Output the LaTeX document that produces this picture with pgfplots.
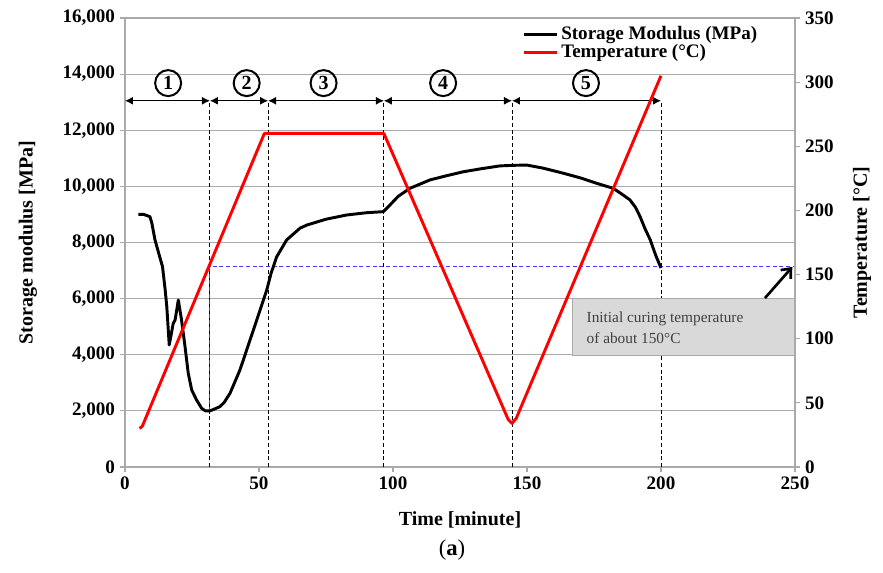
\documentclass[border=0pt]{standalone}
\usepackage{fontspec}
\setmainfont{Liberation Serif}
\usepackage{pgfplots}
\pgfplotsset{compat=1.18}
\usetikzlibrary{arrows.meta}
\definecolor{gridgray}{RGB}{170,170,170}
\definecolor{boxgray}{RGB}{217,217,217}
\definecolor{dashblue}{RGB}{60,60,255}
\begin{document}
\begin{tikzpicture}[x=1pt,y=1pt]
\path (0,0) rectangle (662.25,429);
\begin{axis}[
  at={(93.75pt,78.75pt)}, anchor=south west,
  scale only axis, width=502.5pt, height=336.75pt,
  xmin=0, xmax=250, ymin=0, ymax=16000,
  xtick={0,50,...,250}, ytick={0,2000,...,16000},
  xtick pos=bottom, ytick pos=left, tick align=outside,
  major tick length=4pt,
  axis line style={gridgray, line width=0.8pt},
  tick style={gridgray, line width=0.8pt},
  ymajorgrids, grid style={gridgray, line width=0.8pt},
  scaled y ticks=false,
  /pgf/number format/assume math mode=true,
  /pgf/number format/1000 sep={,},
  tick label style={font=\bfseries\fontsize{14.3}{16}\selectfont},
  label style={font=\bfseries\fontsize{15}{17}\selectfont},
  ylabel={Storage modulus [MPa]},
  xlabel={Time [minute]},
  ylabel style={at={(axis description cs:-0.145,0.5)}, anchor=center},
  xlabel style={at={(axis description cs:0.5,-0.118)}, anchor=center},
]
% phase markers
\foreach \xx in {31.7,53.4,96.6,144.4,200} {
  \edef\tmp{\noexpand\draw[black, line width=0.7pt, dash pattern=on 3pt off 2pt] (axis cs:\xx,0) -- (axis cs:\xx,13050);}
  \tmp
}
\draw[dashblue, line width=0.8pt, dash pattern=on 3pt off 2pt] (axis cs:31.7,2000) -- (axis cs:31.7,7130) -- (axis cs:250,7130);
\draw[black, line width=0.8pt, {Latex[length=6pt,width=6pt]}-{Latex[length=6pt,width=6pt]}] (axis cs:0,13050) -- (axis cs:31.7,13050);
\draw[black, line width=0.8pt, {Latex[length=6pt,width=6pt]}-{Latex[length=6pt,width=6pt]}] (axis cs:31.7,13050) -- (axis cs:53.4,13050);
\draw[black, line width=0.8pt, {Latex[length=6pt,width=6pt]}-{Latex[length=6pt,width=6pt]}] (axis cs:53.4,13050) -- (axis cs:96.6,13050);
\draw[black, line width=0.8pt, {Latex[length=6pt,width=6pt]}-{Latex[length=6pt,width=6pt]}] (axis cs:96.6,13050) -- (axis cs:144.4,13050);
\draw[black, line width=0.8pt, {Latex[length=6pt,width=6pt]}-{Latex[length=6pt,width=6pt]}] (axis cs:144.4,13050) -- (axis cs:200,13050);
\tikzset{circnum/.style={circle, draw=black, line width=1.5pt, minimum size=19.5pt, inner sep=0pt, font=\bfseries\fontsize{15}{16}\selectfont}}
\node[circnum] at (axis cs:16.1,13680) {1};
\node[circnum] at (axis cs:45.4,13680) {2};
\node[circnum] at (axis cs:74.1,13680) {3};
\node[circnum] at (axis cs:118.7,13680) {4};
\node[circnum] at (axis cs:172.0,13680) {5};
% annotation box
\filldraw[fill=boxgray, draw=gridgray, line width=0.6pt] (axis cs:166.8,3990) rectangle (axis cs:250,6020);
\node[anchor=west, align=left, text=black!75, font=\fontsize{11.5}{16}\selectfont] at (axis cs:170.5,4971) {Initial curing temperature\\of about 150°C};
\draw[black, line width=2pt, -{Straight Barb[length=6pt,width=10pt]}] (axis cs:238.8,6020) -- (axis cs:249,7130);
% storage modulus
\addplot[black, line width=2.2pt, line join=round] coordinates {
(5,9000) (7,9000) (9.3,8920) (10,8700) (11.2,8090) (13.1,7440) (14,7140) (15,6300)
(15.6,5710) (16.5,4350) (17.2,4700) (18,5120) (18.7,5240) (19.9,5950) (21.1,5240)
(22.4,4290) (23.6,3340) (24.9,2740) (26.7,2390) (28.6,2090) (30,2000) (31.7,2000)
(33,2050) (35.4,2150) (37,2300) (39.2,2630) (42.9,3460) (47.9,4880) (52.9,6310)
(54.5,6900) (56.6,7490) (60.3,8090) (65.3,8510) (67.8,8620) (75,8830) (82.7,8980)
(90,9060) (96.4,9100) (98.9,9340) (102,9650) (106.3,9930) (113.8,10230) (120,10380)
(126.2,10520) (133,10630) (139.9,10730) (145,10750) (149.9,10760) (156,10650)
(163.5,10470) (170,10300) (176,10110) (182.2,9930) (185,9750) (188.4,9520)
(190.5,9250) (192.2,8920) (194,8500) (196,8090) (198,7550) (200,7090)
};
\end{axis}
\begin{axis}[
  at={(93.75pt,78.75pt)}, anchor=south west,
  scale only axis, width=502.5pt, height=336.75pt,
  xmin=0, xmax=250, ymin=0, ymax=350,
  axis x line=none, axis y line*=right,
  ytick={0,50,...,350}, tick align=outside,
  major tick length=4pt,
  axis line style={gridgray, line width=0.8pt},
  tick style={gridgray, line width=0.8pt},
  /pgf/number format/assume math mode=true,
  tick label style={font=\bfseries\fontsize{14.3}{16}\selectfont},
  label style={font=\bfseries\fontsize{15}{17}\selectfont},
  ylabel={Temperature [°C]},
  ylabel style={at={(axis description cs:1.1,0.5)}, anchor=center, rotate=0},
  legend style={at={(0.95,0.99)}, anchor=north east, draw=none, fill=none,
    font=\bfseries\fontsize{14.3}{15}\selectfont, row sep=-2pt, inner sep=1pt},
  legend cell align=left,
  legend image code/.code={\draw[#1] (0pt,0pt) -- (25pt,0pt);},
]
\addlegendimage{black, line width=2.2pt}
\addlegendentry{Storage Modulus (MPa)}
\addplot[red, line width=2.2pt, line join=round] coordinates {
(5.5,30) (6.5,32) (52,260) (96.6,260) (143,37) (144.4,34) (146,38) (200,305)
};
\addlegendentry{Temperature (°C)}
\end{axis}
\node[font=\fontsize{17}{19}\selectfont] at (339,16.5) {(\textbf{a})};
\end{tikzpicture}
\end{document}
